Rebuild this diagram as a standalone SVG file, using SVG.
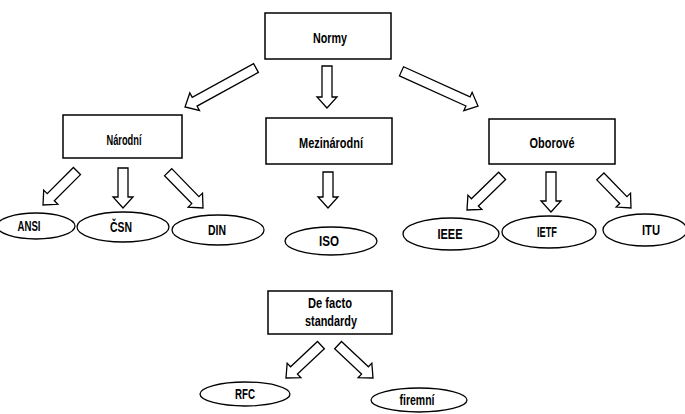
<svg xmlns="http://www.w3.org/2000/svg" width="685" height="414" viewBox="0 0 685 414">
<defs>
<style>
.box{fill:#fff;stroke:#000;stroke-width:1.5}
.ell{fill:#fff;stroke:#000;stroke-width:1.3}
.arr{fill:#fff;stroke:#000;stroke-width:1.3;stroke-linejoin:miter}
text{font-family:"Liberation Sans",Arial,sans-serif;font-weight:bold;font-size:15px;fill:#000;text-anchor:middle}
</style>
</defs>
<rect width="685" height="414" fill="#fff"/>
<g id="connectors">
<g transform="translate(185,107) rotate(151.2)"><polygon class="arr" points="-81,-5 -11,-5 -11,-10 0,0 -11,10 -11,5 -81,5"/></g>
<g transform="translate(327,108) rotate(90)"><polygon class="arr" points="-42,-5 -11,-5 -11,-10 0,0 -11,10 -11,5 -42,5"/></g>
<g transform="translate(478,106) rotate(24.4)"><polygon class="arr" points="-84,-5 -11,-5 -11,-10 0,0 -11,10 -11,5 -84,5"/></g>
<g transform="translate(43,205) rotate(135)"><polygon class="arr" points="-48,-5 -11,-5 -11,-10 0,0 -11,10 -11,5 -48,5"/></g>
<g transform="translate(123,208) rotate(90)"><polygon class="arr" points="-40,-5 -11,-5 -11,-10 0,0 -11,10 -11,5 -40,5"/></g>
<g transform="translate(203,208) rotate(45.8)"><polygon class="arr" points="-50,-5 -11,-5 -11,-10 0,0 -11,10 -11,5 -50,5"/></g>
<g transform="translate(328,208) rotate(90)"><polygon class="arr" points="-36,-5 -11,-5 -11,-10 0,0 -11,10 -11,5 -36,5"/></g>
<g transform="translate(467,210) rotate(135.8)"><polygon class="arr" points="-49,-5 -11,-5 -11,-10 0,0 -11,10 -11,5 -49,5"/></g>
<g transform="translate(551,212) rotate(90)"><polygon class="arr" points="-40,-5 -11,-5 -11,-10 0,0 -11,10 -11,5 -40,5"/></g>
<g transform="translate(631,208) rotate(45.9)"><polygon class="arr" points="-44,-5 -11,-5 -11,-10 0,0 -11,10 -11,5 -44,5"/></g>
<g transform="translate(286,378) rotate(136.7)"><polygon class="arr" points="-48,-5 -11,-5 -11,-10 0,0 -11,10 -11,5 -48,5"/></g>
<g transform="translate(373,378) rotate(43.3)"><polygon class="arr" points="-48,-5 -11,-5 -11,-10 0,0 -11,10 -11,5 -48,5"/></g>
</g>
<g id="normy"><rect class="box" x="265" y="13" width="126" height="46"/><text x="330" y="43" textLength="34" lengthAdjust="spacingAndGlyphs">Normy</text></g>
<g id="narodni"><rect class="box" x="63" y="115" width="119" height="43"/><text x="124" y="145" textLength="35" lengthAdjust="spacingAndGlyphs">Národní</text></g>
<g id="mezinarodni"><rect class="box" x="266" y="118" width="126" height="46"/><text x="331" y="148" textLength="64" lengthAdjust="spacingAndGlyphs">Mezinárodní</text></g>
<g id="oborove"><rect class="box" x="489" y="119" width="126" height="45"/><text x="552" y="148" textLength="45" lengthAdjust="spacingAndGlyphs">Oborové</text></g>
<g id="defacto"><rect class="box" x="268" y="291" width="124" height="43"/><text x="330" y="308" textLength="44" lengthAdjust="spacingAndGlyphs">De facto</text><text x="331" y="326" textLength="52" lengthAdjust="spacingAndGlyphs">standardy</text></g>
<g id="ansi"><ellipse class="ell" cx="36" cy="226" rx="39" ry="13"/><text x="29" y="231" textLength="23" lengthAdjust="spacingAndGlyphs">ANSI</text></g>
<g id="csn"><ellipse class="ell" cx="123" cy="227" rx="46" ry="15"/><text x="121" y="232" textLength="22" lengthAdjust="spacingAndGlyphs">ČSN</text></g>
<g id="din"><ellipse class="ell" cx="218" cy="230" rx="46" ry="15"/><text x="217" y="235" textLength="18" lengthAdjust="spacingAndGlyphs">DIN</text></g>
<g id="iso"><ellipse class="ell" cx="331" cy="241" rx="46" ry="14"/><text x="329" y="246" textLength="20" lengthAdjust="spacingAndGlyphs">ISO</text></g>
<g id="ieee"><ellipse class="ell" cx="451" cy="234" rx="48" ry="16"/><text x="450" y="239" textLength="25" lengthAdjust="spacingAndGlyphs">IEEE</text></g>
<g id="ietf"><ellipse class="ell" cx="549" cy="232" rx="47" ry="16"/><text x="547" y="237" textLength="20" lengthAdjust="spacingAndGlyphs">IETF</text></g>
<g id="itu"><ellipse class="ell" cx="645" cy="230" rx="42" ry="16"/><text x="651" y="235" textLength="18" lengthAdjust="spacingAndGlyphs">ITU</text></g>
<g id="rfc"><ellipse class="ell" cx="245" cy="394" rx="45" ry="12"/><text x="245" y="399" textLength="20" lengthAdjust="spacingAndGlyphs">RFC</text></g>
<g id="firemni"><ellipse class="ell" cx="419" cy="400" rx="48" ry="12"/><text x="417" y="405" textLength="35" lengthAdjust="spacingAndGlyphs">firemní</text></g>
</svg>
